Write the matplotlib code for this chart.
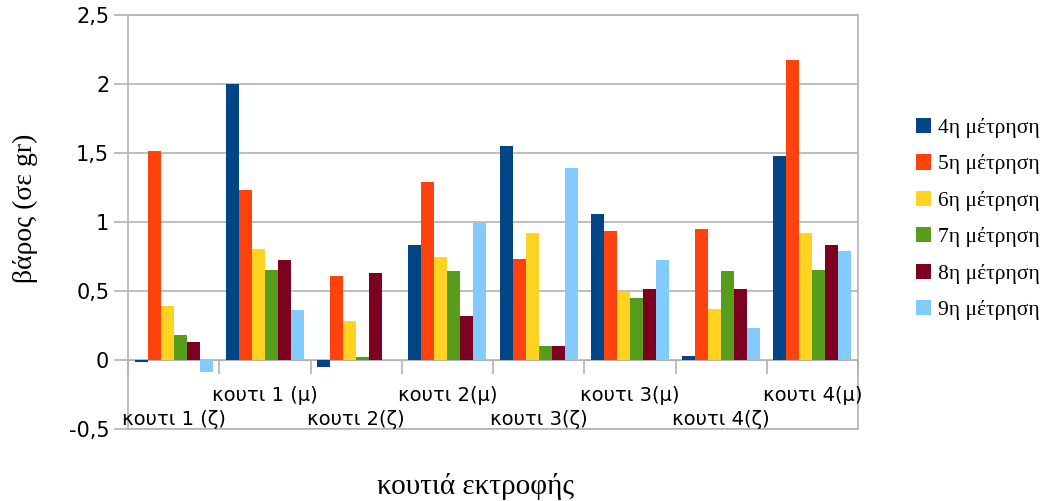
import matplotlib
matplotlib.use("Agg")
import matplotlib.pyplot as plt
import numpy as np
from matplotlib.font_manager import FontProperties
from matplotlib.ticker import FuncFormatter

# Weight per rearing box, one series per measurement round
boxes = ["κουτι 1 (ζ)", "κουτι 1 (μ)", "κουτι 2(ζ)", "κουτι 2(μ)",
         "κουτι 3(ζ)", "κουτι 3(μ)", "κουτι 4(ζ)", "κουτι 4(μ)"]
series_names = ["4η μέτρηση", "5η μέτρηση", "6η μέτρηση",
                "7η μέτρηση", "8η μέτρηση", "9η μέτρηση"]

m4 = [-0.02, 2.00, -0.05, 0.83, 1.55, 1.06, 0.03, 1.48]
m5 = [1.51, 1.23, 0.61, 1.29, 0.73, 0.93, 0.95, 2.17]
m6 = [0.39, 0.80, 0.28, 0.745, 0.92, 0.49, 0.37, 0.92]
m7 = [0.18, 0.65, 0.02, 0.64, 0.10, 0.45, 0.64, 0.65]
m8 = [0.13, 0.72, 0.63, 0.32, 0.10, 0.51, 0.51, 0.83]
m9 = [-0.09, 0.36, 0.0, 0.99, 1.39, 0.72, 0.23, 0.79]

colors = ["#004586", "#ff420e", "#ffd320", "#579d1c", "#7e0021", "#83caff"]
grey = "#b3b3b3"

sans = ["DejaVu Sans"]
serif = ["Liberation Serif", "DejaVu Serif"]

fig = plt.figure(figsize=(10.53, 5.01), dpi=100)
W, H = 1053, 501
ax = fig.add_axes([128 / W, 1 - 428.6 / H, 730 / W, (428.6 - 15) / H])

x = np.arange(len(boxes))
width = 1 / 7
all_series = [m4, m5, m6, m7, m8, m9]
for k, (vals, name) in enumerate(zip(all_series, series_names)):
    off = (k - 2.5) * width
    ax.bar(x + off, vals, width=width, color=colors[k], label=name,
           linewidth=0, zorder=3)

ax.set_xlim(-0.5, len(boxes) - 0.5)
ax.set_ylim(-0.5, 2.5)
ax.set_yticks(np.arange(-0.5, 2.51, 0.5))
ax.yaxis.set_major_formatter(
    FuncFormatter(lambda v, p: f"{v:g}".replace(".", ",")))
ax.yaxis.grid(True, color=grey, lw=1.2, zorder=0)
ax.tick_params(axis="y", length=10, color=grey, width=1.2, pad=3.5,
               labelsize=15)
for lab in ax.get_yticklabels():
    lab.set_family(sans)
ax.set_xticks([])
for sp in ax.spines.values():
    sp.set_color(grey)
    sp.set_linewidth(1.2)

# category axis crossing at zero, with boundary ticks
sec = ax.secondary_xaxis(1 / 6)
sec.set_xticks(np.arange(-0.5, len(boxes), 1.0))
sec.tick_params(axis="x", direction="out", length=10, color=grey, width=1.2,
                labelbottom=False, labeltop=False)
sec.spines["bottom"].set_color(grey)
sec.spines["top"].set_color(grey)

# staggered category labels below the zero line
for i, name in enumerate(boxes):
    dy = -65 if i % 2 == 0 else -41
    ax.annotate(name, xy=(x[i], 0), xytext=(0, dy),
                textcoords="offset pixels", ha="center", va="baseline",
                fontsize=14, family=sans, annotation_clip=False)

ax.set_ylabel("βάρος (σε gr)", fontsize=20, family=serif)
ax.yaxis.set_label_coords((25 - 128) / 730, (428.6 - 208.5) / 413.6)
ax.yaxis.label.set_va("center")
ax.set_xlabel("κουτιά εκτροφής", fontsize=21, family=serif)
ax.xaxis.set_label_coords((475 - 128) / 730, (428.6 - 487) / 413.6)
ax.xaxis.label.set_va("center")

leg_font = FontProperties(family="Liberation Serif", size=15.5)
leg = fig.legend(loc="upper left", bbox_to_anchor=(916 / W, 1 - 118 / H),
                 frameon=False, prop=leg_font,
                 handlelength=0.7, handleheight=0.7, handletextpad=0.3,
                 labelspacing=0.76, borderaxespad=0, borderpad=0)

fig.savefig("out.png", dpi=100)
